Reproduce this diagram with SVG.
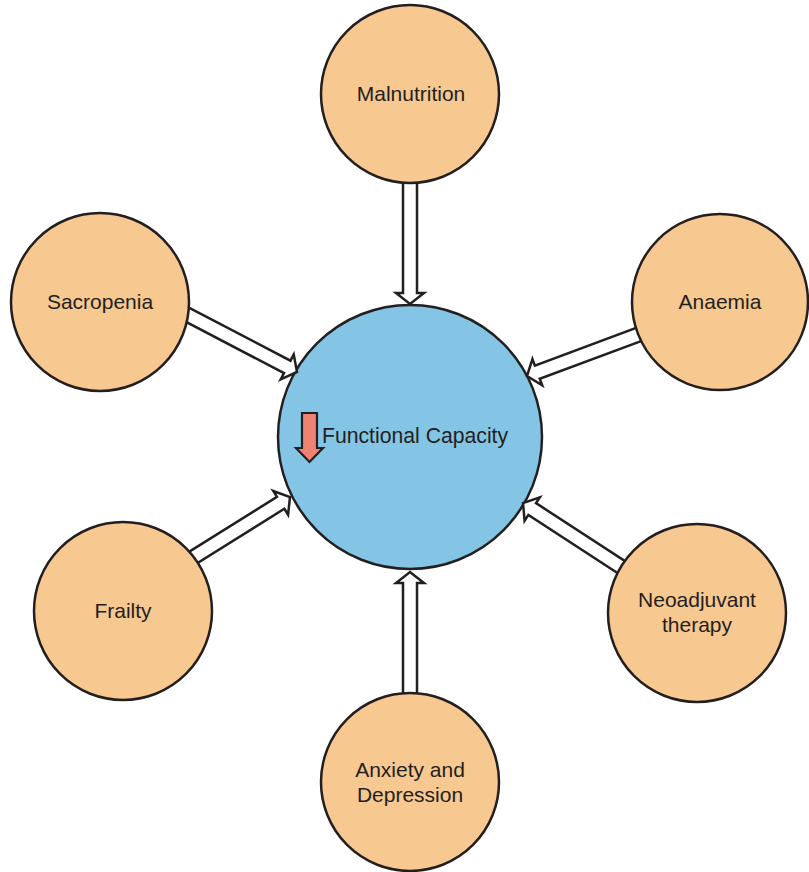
<svg xmlns="http://www.w3.org/2000/svg" width="809" height="872" viewBox="0 0 809 872">
<style>
.outer{fill:#F7C890;stroke:#231F20;stroke-width:2.5}
.center{fill:#84C4E5;stroke:#231F20;stroke-width:2.5}
.arr{fill:#FFFFFF;stroke:#231F20;stroke-width:2.5;stroke-linejoin:miter}
text{font-family:"Liberation Sans",Arial,sans-serif;font-size:21px;fill:#231F20;text-anchor:middle}
</style>
<rect width="809" height="872" fill="#FFFFFF"/>
<g id="functional-capacity">
<circle class="center" cx="410" cy="437" r="132"/>
<polygon points="302,413 317,413 317,448 323,448 309.5,462 296,448 302,448" fill="#F08272" stroke="#231F20" stroke-width="2.2"/>
<text x="322" y="443" style="text-anchor:start;font-size:21.2px">Functional Capacity</text>
</g>
<g id="connectors">
<polygon class="arr" transform="translate(410,304) rotate(90)" points="-134,-7 -11,-7 -11,-14 0,0 -11,14 -11,7 -134,7"/>
<polygon class="arr" transform="translate(297,372) rotate(27.6)" points="-136,-7 -11,-7 -11,-14 0,0 -11,14 -11,7 -136,7"/>
<polygon class="arr" transform="translate(527,376) rotate(159.6)" points="-132,-7 -11,-7 -11,-14 0,0 -11,14 -11,7 -132,7"/>
<polygon class="arr" transform="translate(290,497) rotate(-32)" points="-128,-7 -11,-7 -11,-14 0,0 -11,14 -11,7 -128,7"/>
<polygon class="arr" transform="translate(523,503) rotate(-146.9)" points="-132,-7 -11,-7 -11,-14 0,0 -11,14 -11,7 -132,7"/>
<polygon class="arr" transform="translate(410,572) rotate(-90)" points="-132,-7 -11,-7 -11,-14 0,0 -11,14 -11,7 -132,7"/>
</g>
<g id="malnutrition">
<circle class="outer" cx="410" cy="94" r="89"/>
<text x="411" y="101">Malnutrition</text>
</g>
<g id="sacropenia">
<circle class="outer" cx="100" cy="302" r="89"/>
<text x="100" y="309">Sacropenia</text>
</g>
<g id="anaemia">
<circle class="outer" cx="720" cy="302" r="88"/>
<text x="720" y="309">Anaemia</text>
</g>
<g id="frailty">
<circle class="outer" cx="123" cy="611" r="89"/>
<text x="123" y="618">Frailty</text>
</g>
<g id="neoadjuvant-therapy">
<circle class="outer" cx="697" cy="613" r="89"/>
<text x="697" y="607">Neoadjuvant</text>
<text x="697" y="632">therapy</text>
</g>
<g id="anxiety-depression">
<circle class="outer" cx="410" cy="782" r="89"/>
<text x="410" y="777">Anxiety and</text>
<text x="410" y="802">Depression</text>
</g>
</svg>
